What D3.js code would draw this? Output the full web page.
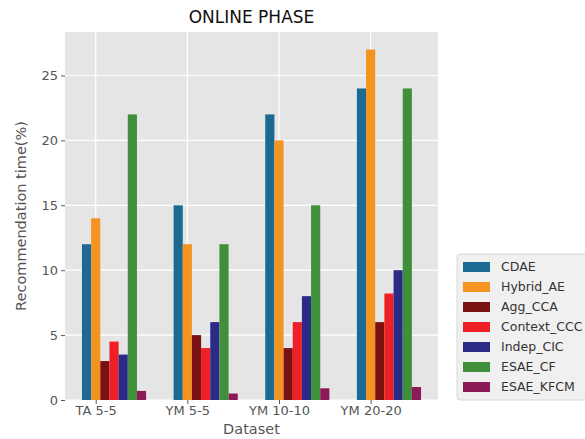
<!DOCTYPE html>
<html>
<head>
<meta charset="utf-8">
<script src="https://cdn.jsdelivr.net/npm/d3@7"></script>
<style>
  html, body { margin: 0; padding: 0; background: #fff; }
  svg { display: block; font-family: "DejaVu Sans", sans-serif; }
</style>
</head>
<body>
<svg id="chart" width="585" height="439"></svg>
<script>
// Datasets on the x axis
const datasets = ["TA 5-5", "YM 5-5", "YM 10-10", "YM 20-20"];

// Methods (one bar per method inside each dataset group)
const methods = ["CDAE", "Hybrid_AE", "Agg_CCA", "Context_CCC", "Indep_CIC", "ESAE_CF", "ESAE_KFCM"];
const methodColors = ["#1c6a93", "#f39420", "#7a1214", "#ee1f25", "#2b2a86", "#3f8f3b", "#8b1a57"];

// Recommendation time (%) per method, ordered as datasets
const cdae       = [12, 15, 22, 24];
const hybridAE   = [14, 12, 20, 27];
const aggCCA     = [3, 5, 4, 6];
const contextCCC = [4.5, 4, 6, 8.2];
const indepCIC   = [3.5, 6, 8, 10];
const esaeCF     = [22, 12, 15, 24];
const esaeKFCM   = [0.7, 0.5, 0.9, 1.0];

const yTicks = [0, 5, 10, 15, 20, 25];

const series = [cdae, hybridAE, aggCCA, contextCCC, indepCIC, esaeCF, esaeKFCM];

const svg = d3.select("#chart");
const plot = { left: 65, right: 438, top: 32, bottom: 400 };
const barW = 0.1;

// x in dataset-index units; bars sit at i + (k-1)*barW around the tick
const x = d3.scaleLinear().domain([-0.335, 3.735]).range([plot.left, plot.right]);
const yMax = d3.max(series.flat()) * 1.05;
const y = d3.scaleLinear().domain([0, yMax]).range([plot.bottom, plot.top]);

// Plot background
svg.append("rect")
  .attr("x", plot.left).attr("y", plot.top)
  .attr("width", plot.right - plot.left).attr("height", plot.bottom - plot.top)
  .attr("fill", "#e5e5e5");

// Grid lines
const grid = svg.append("g");
grid.selectAll("line.h").data(yTicks).join("line")
  .attr("x1", plot.left).attr("x2", plot.right)
  .attr("y1", d => y(d)).attr("y2", d => y(d))
  .attr("stroke", "#fff").attr("stroke-width", 1.2);
grid.selectAll("line.v").data(datasets.map((d, i) => i)).join("line")
  .attr("y1", plot.top).attr("y2", plot.bottom)
  .attr("x1", d => x(d)).attr("x2", d => x(d))
  .attr("stroke", "#fff").attr("stroke-width", 1.2);

// Bars
const bars = svg.append("g");
series.forEach((vals, k) => {
  bars.selectAll(null).data(vals).join("rect")
    .attr("x", (v, i) => x(i + (k - 1.5) * barW))
    .attr("width", x(barW) - x(0))
    .attr("y", v => y(v))
    .attr("height", v => y(0) - y(v))
    .attr("fill", methodColors[k]);
});

// Axes
const xAxis = d3.axisBottom(x)
  .tickValues(datasets.map((d, i) => i))
  .tickFormat(i => datasets[i])
  .tickSize(4).tickPadding(2);
const yAxis = d3.axisLeft(y).tickValues(yTicks).tickSize(4).tickPadding(3);

const gx = svg.append("g").attr("transform", `translate(0,${plot.bottom})`).call(xAxis);
const gy = svg.append("g").attr("transform", `translate(${plot.left},0)`).call(yAxis);
[gx, gy].forEach(g => {
  g.select(".domain").remove();
  g.selectAll(".tick line").attr("stroke", "#555");
  g.selectAll(".tick text").attr("fill", "#555")
    .style("font-size", "13px").style("font-family", "DejaVu Sans, sans-serif");
});

// Title and axis labels
svg.append("text")
  .attr("x", (plot.left + plot.right) / 2).attr("y", 23)
  .attr("text-anchor", "middle")
  .style("font-size", "17px").attr("fill", "#111")
  .text("ONLINE PHASE");

svg.append("text")
  .attr("x", (plot.left + plot.right) / 2).attr("y", 434)
  .attr("text-anchor", "middle")
  .style("font-size", "14.5px").attr("fill", "#555")
  .text("Dataset");

svg.append("text")
  .attr("transform", `translate(26,${(plot.top + plot.bottom) / 2}) rotate(-90)`)
  .attr("text-anchor", "middle")
  .style("font-size", "14.5px").attr("fill", "#555")
  .text("Recommendation time(%)");

// Legend
const legend = svg.append("g").attr("transform", "translate(457,254)");
legend.append("rect")
  .attr("x", 0).attr("y", 0).attr("width", 140).attr("height", 146)
  .attr("rx", 3)
  .attr("fill", "#f0f0f0").attr("stroke", "#d8d8d8");
const items = legend.selectAll("g.item").data(methods).join("g")
  .attr("transform", (d, i) => `translate(6,${13 + i * 20})`);
items.append("rect")
  .attr("x", 0).attr("y", -5).attr("width", 27).attr("height", 10)
  .attr("fill", (d, i) => methodColors[i]);
items.append("text")
  .attr("x", 38).attr("y", 0).attr("dy", "0.35em")
  .style("font-size", "12.5px").attr("fill", "#333")
  .text(d => d);
</script>
</body>
</html>
